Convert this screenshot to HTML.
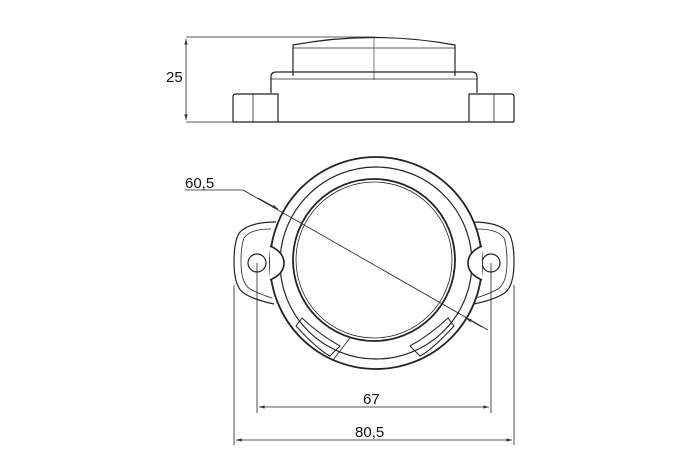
<!DOCTYPE html>
<html><head><style>body{margin:0;background:#fff}svg{display:block}text{font-family:"Liberation Sans",sans-serif;font-size:15px;fill:#111}</style></head><body>
<svg width="700" height="465" viewBox="0 0 700 465">
<defs><marker id="a" viewBox="0 0 10 10" refX="10" refY="5" markerWidth="10" markerHeight="7" orient="auto-start-reverse"><path d="M0,2 L10,5 L0,8 z" fill="#333"/></marker></defs>
<g fill="none" stroke="#222" stroke-width="1.2">
<!-- top view -->
<line x1="186" y1="37" x2="375" y2="37" stroke-width="0.8"/>
<line x1="186" y1="122" x2="233" y2="122" stroke-width="0.8"/>
<line x1="186" y1="39" x2="186" y2="120" stroke-width="0.8" marker-start="url(#a)" marker-end="url(#a)"/>
<path d="M293,76 L293,45 Q374,30 455,45 L455,76"/>
<line x1="293" y1="48" x2="455" y2="48" stroke-width="0.8"/>
<path d="M271,93 L271,77 Q271,72 276,72 L472,72 Q477,72 477,77 L477,93"/>
<line x1="271" y1="79" x2="477" y2="79" stroke-width="0.8"/>
<path d="M233,122 L233,97 Q233,94 236,94 L278,94 L278,122 M233,122 L514,122"/>
<path d="M514,122 L514,97 Q514,94 511,94 L469,94 L469,122"/>
<line x1="253" y1="94" x2="253" y2="122" stroke-width="0.8"/>
<line x1="494" y1="94" x2="494" y2="122" stroke-width="0.8"/>
<line x1="374" y1="37" x2="374" y2="80" stroke-width="0.6"/>
<!-- front view ears -->
<path d="M276,222 Q250,222 240,232 Q234,240 234,262 Q234,288 245,294 Q255,300 274,304"/>
<path d="M472,222 Q498,222 508,232 Q514,240 514,262 Q514,288 503,294 Q493,300 474,304"/>
<path d="M271,229 Q250,229 244,238 Q241,246 241,262 Q241,283 250,289 Q259,294 272,298" stroke-width="0.8"/>
<path d="M477,229 Q498,229 504,238 Q507,246 507,262 Q507,283 498,289 Q489,294 476,298" stroke-width="0.8"/>
<circle cx="257" cy="263" r="9"/>
<circle cx="491" cy="263" r="9"/>
<circle cx="376" cy="263" r="106" stroke-width="1.8" fill="#fff"/>
<circle cx="376" cy="263" r="96"/>
<circle cx="374" cy="260" r="81" stroke-width="1.8"/>
<circle cx="374" cy="260" r="78" stroke-width="0.8"/>
<path d="M270,246 Q284,252 284,263 Q284,274 270,280" stroke-width="1.6" fill="#fff"/>
<path d="M482,246 Q468,252 468,263 Q468,274 482,280" stroke-width="1.6" fill="#fff"/>
<path d="M302,318 L296,326 Q318,350 330,356 L340,346 Q320,335 302,318z" stroke-width="1"/>
<path d="M448,318 L454,326 Q432,350 420,356 L410,346 Q430,335 448,318z" stroke-width="1"/>
<line x1="333" y1="360" x2="350" y2="338" stroke-width="0.8"/>
<!-- diagonal -->
<g stroke-width="0.8">
<line x1="185" y1="190" x2="243" y2="190"/>
<line x1="243" y1="190" x2="488" y2="330"/>
<line x1="258" y1="198" x2="278" y2="209" marker-end="url(#a)"/>
<line x1="482" y1="327" x2="466" y2="318" marker-end="url(#a)"/>
<!-- extension lines -->
<line x1="257" y1="263" x2="257" y2="413"/>
<line x1="491" y1="263" x2="491" y2="413"/>
<line x1="234" y1="285" x2="234" y2="445"/>
<line x1="514" y1="285" x2="514" y2="445"/>
<line x1="259" y1="407" x2="489" y2="407" marker-start="url(#a)" marker-end="url(#a)"/>
<line x1="236" y1="440" x2="512" y2="440" marker-start="url(#a)" marker-end="url(#a)"/>
</g>
</g>
<text x="166" y="82">25</text>
<text x="185" y="188">60,5</text>
<text x="363" y="404">67</text>
<text x="355" y="437">80,5</text>
</svg>
</body></html>
